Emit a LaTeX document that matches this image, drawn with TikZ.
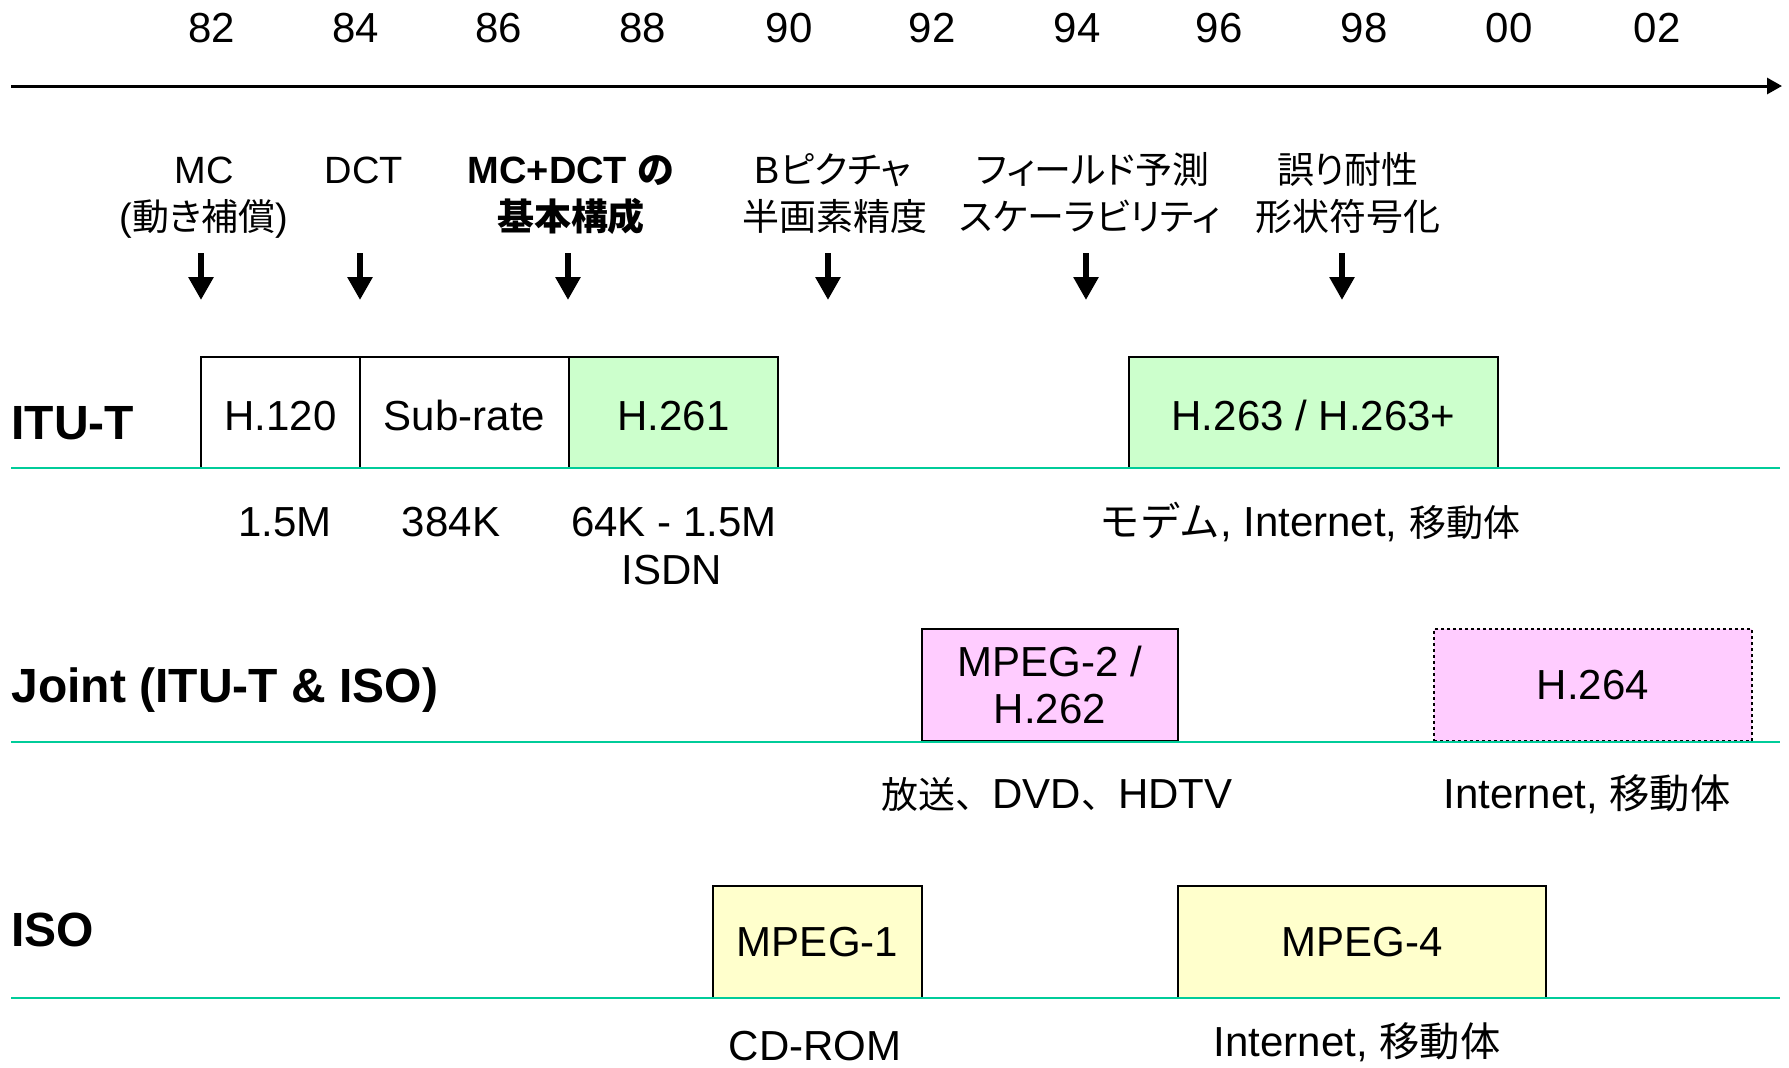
\documentclass[tikz,border=0pt]{standalone}
\usepackage{fontspec}
\setmainfont{Liberation Sans}
\newfontfamily\jp[Scale=0.88,RawFeature=+palt]{Noto Sans CJK JP}
\newfontfamily\jpq[Scale=0.973,RawFeature=+palt]{Noto Sans CJK JP}
\newfontfamily\jpf[Scale=0.88]{Noto Sans CJK JP}
\newfontfamily\jpn[Scale=0.96]{Noto Sans CJK JP}
\usetikzlibrary{arrows.meta}
\definecolor{gline}{HTML}{00CC99}
\definecolor{gfill}{HTML}{CCFFCC}
\definecolor{pfill}{HTML}{FFCCFF}
\definecolor{yfill}{HTML}{FFFFCC}
\begin{document}
\begin{tikzpicture}[x=0.5pt,y=-0.5pt,
  txt/.style={inner sep=0pt, font=\fontsize{21pt}{24pt}\selectfont, anchor=base},
  feat/.style={inner sep=0pt, font=\fontsize{19pt}{22pt}\selectfont, anchor=base},
  featb/.style={feat, font=\fontsize{19pt}{22pt}\selectfont\bfseries},
  rowlab/.style={inner sep=0pt, font=\fontsize{24pt}{27pt}\selectfont\bfseries, anchor=base west},
  stdbox/.style={draw=black, line width=1pt, inner sep=0pt, font=\fontsize{21pt}{23.5pt}\selectfont, align=center},
  low/.style={text height=17.5pt, text depth=0pt},
  rowrule/.style={draw=gline, line width=1.3pt},
  timeline/.style={line width=1.5pt, -{Triangle[length=7.5pt,width=8pt]}},
  downarr/.style={line width=3pt, -{Triangle[length=11.5pt,width=12pt]}}
]
\useasboundingbox (0,0) rectangle (1789,1067);

% years
\node[txt] (y82) at (212,42) {82};
\node[txt] (y84) at (356,42) {84};
\node[txt] (y86) at (499,42) {86};
\node[txt] (y88) at (643,42) {88};
\node[txt] (y90) at (789,42) {90};
\node[txt] (y92) at (932,42) {92};
\node[txt] (y94) at (1077,42) {94};
\node[txt] (y96) at (1219,42) {96};
\node[txt] (y98) at (1364,42) {98};
\node[txt] (y00) at (1509,42) {00};
\node[txt] (y02) at (1657,42) {02};

% timeline
\coordinate (tl0) at (11,86);
\coordinate (tl1) at (1782,86);
\draw[timeline] (tl0) -- (tl1);

% feature labels
\node[feat] (f1a) at (204,183) {MC};
\node[feat] (f1b) at (204,230) {({\jpq 動き補償})};
\node[feat] (f2a) at (364,183) {DCT};
\node[featb] (f3a) at (571,183) {MC+DCT {\jpq の}};
\node[featb] (f3b) at (571,230) {{\jpq 基本構成}};
\node[feat] (f4a) at (833,183) {B{\jpq ピクチャ}};
\node[feat] (f4b) at (835,230) {{\jpq 半画素精度}};
\node[feat] (f5a) at (1093,183) {{\jpq フィールド予測}};
\node[feat] (f5b) at (1090,230) {{\jpq スケーラビリティ}};
\node[feat] (f6a) at (1348,183) {{\jpq 誤り耐性}};
\node[feat] (f6b) at (1348,230) {{\jpq 形状符号化}};

% down arrows
\coordinate (a1s) at (201,253); \coordinate (a1e) at (201,300);
\coordinate (a2s) at (360,253); \coordinate (a2e) at (360,300);
\coordinate (a3s) at (568,253); \coordinate (a3e) at (568,300);
\coordinate (a4s) at (828,253); \coordinate (a4e) at (828,300);
\coordinate (a5s) at (1086,253); \coordinate (a5e) at (1086,300);
\coordinate (a6s) at (1342,253); \coordinate (a6e) at (1342,300);
\draw[downarr] (a1s) -- (a1e);
\draw[downarr] (a2s) -- (a2e);
\draw[downarr] (a3s) -- (a3e);
\draw[downarr] (a4s) -- (a4e);
\draw[downarr] (a5s) -- (a5e);
\draw[downarr] (a6s) -- (a6e);

% row labels
\node[rowlab] (litu) at (11,439) {ITU-T};
\node[rowlab] (ljoint) at (11,702) {Joint (ITU-T \& ISO)};
\node[rowlab] (liso) at (11,946) {ISO};

% ITU boxes
\node[stdbox, low, fill=white, minimum width=79.5pt, minimum height=55.5pt] (h120) at (280.5,412.5) {H.120};
\node[stdbox, low, fill=white, minimum width=104.5pt, minimum height=55.5pt] (subr) at (464.5,412.5) {Sub-rate};
\node[stdbox, low, fill=gfill, minimum width=104.5pt, minimum height=55.5pt] (h261) at (673.5,412.5) {H.261};
\node[stdbox, low, fill=gfill, minimum width=184.5pt, minimum height=55.5pt] (h263) at (1313.5,412.5) {H.263 / H.263+};

% Joint boxes
\node[stdbox, fill=pfill, minimum width=128pt, minimum height=56pt] (mp2) at (1050,685) {MPEG-2 /\\H.262};
\node[stdbox, fill=pfill, dash pattern=on 1.5pt off 1.5pt, minimum width=159pt, minimum height=56pt] (h264) at (1593,685) {H.264};

% ISO boxes
\node[stdbox, fill=yfill, minimum width=104.5pt, minimum height=56pt] (mp1) at (817.5,942) {MPEG-1};
\node[stdbox, fill=yfill, minimum width=184pt, minimum height=56pt] (mp4) at (1362,942) {MPEG-4};

% row rules
\coordinate (r1w) at (11,468); \coordinate (r1e) at (1780,468);
\coordinate (r2w) at (11,742); \coordinate (r2e) at (1780,742);
\coordinate (r3w) at (11,998); \coordinate (r3e) at (1780,998);
\draw[rowrule] (r1w) -- (r1e);
\draw[rowrule] (r2w) -- (r2e);
\draw[rowrule] (r3w) -- (r3e);

% notes
\node[txt] (n1) at (285,536) {1.5M};
\node[txt] (n2) at (451,536) {384K};
\node[txt] (n3) at (674,536) {64K - 1.5M};
\node[txt] (n3b) at (672,584) {ISDN};
\node[txt] (n4) at (1310,536) {{\jpn モデム}, Internet, {\jpf 移動体}};
\node[txt] (n5) at (1057,808) {{\jpf 放送、}DVD{\jpf 、}HDTV};
\node[txt] (n6) at (1587,808) {Internet, {\jpn 移動体}};
\node[txt] (n7) at (815,1060) {CD-ROM};
\node[txt] (n8) at (1357,1056) {Internet, {\jpn 移動体}};
\end{tikzpicture}
\end{document}
